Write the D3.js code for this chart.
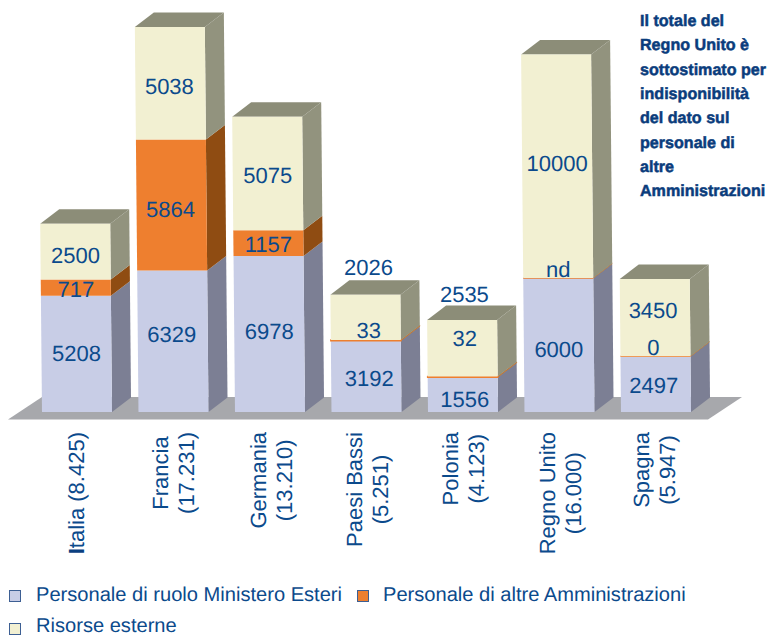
<!DOCTYPE html>
<html>
<head>
<meta charset="utf-8">
<script src="https://cdn.jsdelivr.net/npm/d3@7"></script>
<style>
  html, body { margin: 0; padding: 0; background: #fff; }
  svg { display: block; font-family: "Liberation Sans", Arial, sans-serif; text-rendering: geometricPrecision; }
</style>
</head>
<body>
<svg id="chart"></svg>
<script>
const countries = ['Italia', 'Francia', 'Germania', 'Paesi Bassi', 'Polonia', 'Regno Unito', 'Spagna'];
const totals = ['8.425', '17.231', '13.210', '5.251', '4.123', '16.000', '5.947'];
const ruolo = [5208, 6329, 6978, 3192, 1556, 6000, 2497];
const altre = [717, 5864, 1157, 33, 32, null, 0];   // null = nd
const esterne = [2500, 5038, 5075, 2026, 2535, 10000, 3450];
const seriesNames = ['Personale di ruolo Ministero Esteri', 'Personale di altre Amministrazioni', 'Risorse esterne'];
const noteLines = ['Il totale del', 'Regno Unito è', 'sottostimato per', 'indisponibilità', 'del dato sul', 'personale di', 'altre', 'Amministrazioni'];

const width = 767, height = 636;
const textColor = '#0b4a8c';
const frontColors = ['#c8cde6', '#ee7f2f', '#f2f0d2'];
const sideColors = ['#7c7f94', '#8f4c12', '#92937e'];
const topColor = '#8c8d78';
const depth = {x: 19, y: 14.5};
const skew = 0.0095;   // bars lean slightly left going up

// hand nudges of the value labels, the source chart moved them around: [ruolo, altre, esterne]
const labelNudge = {
  'Italia': [-1, 1, 3],
  'Francia': [-7, 4, 3],
  'Germania': [-3, 1, 2],
  'Paesi Bassi': [2, -10, -50],
  'Polonia': [4, -39, -54],
  'Regno Unito': [4, -9, -3],
  'Spagna': [1, -9, -8]
};
const labelShiftX = {'Italia': 0, 'Francia': -1, 'Germania': 0, 'Paesi Bassi': 3, 'Polonia': 2, 'Regno Unito': 0, 'Spagna': -2};

const svg = d3.select('#chart').attr('width', width).attr('height', height);

const x = d3.scaleBand().domain(countries).range([42, 691]).paddingInner(0.2746).paddingOuter(0);
const y = d3.scaleLinear().domain([0, 17231]).range([412, 27]);
const leftAt = (c, py) => x(c) - (412 - py) * skew;
const pts = arr => arr.map(p => p.join(',')).join(' ');

// floor
svg.append('polygon')
  .attr('points', pts([[8, 419.5], [42, 397], [742, 397], [708, 419.5]]))
  .attr('fill', '#a7a8ac');

const bars = countries.map((c, i) => {
  let start = 0;
  const vals = [ruolo[i], altre[i], esterne[i]];
  return {
    country: c,
    segs: vals.map((v, s) => {
      const seg = {s, v, y0: y(start), y1: y(start + (v || 0)), label: v === null ? 'nd' : String(v), nudge: labelNudge[c][s]};
      start += v || 0;
      return seg;
    })
  };
});

const bar = svg.selectAll('.bar').data(bars).join('g').attr('class', 'bar');

// side faces
bar.selectAll('.side').data(d => d.segs.map(s => ({...s, country: d.country}))).join('polygon')
  .attr('class', 'side')
  .attr('points', d => {
    const b = leftAt(d.country, d.y0) + x.bandwidth(), t = leftAt(d.country, d.y1) + x.bandwidth();
    return pts([[b, d.y0], [b + depth.x, d.y0 - depth.y], [t + depth.x, d.y1 - depth.y], [t, d.y1]]);
  })
  .attr('fill', d => sideColors[d.s])
  .attr('stroke', d => d.s === 1 ? (d.y0 - d.y1 < 2 ? '#c8762e' : sideColors[1]) : 'none')
  .attr('stroke-width', d => d.y0 - d.y1 < 2 ? 0.8 : 0);

// top face
bar.append('polygon')
  .attr('points', d => {
    const ty = d.segs[2].y1, l = leftAt(d.country, ty), r = l + x.bandwidth();
    return pts([[l, ty], [l + depth.x, ty - depth.y], [r + depth.x, ty - depth.y], [r, ty]]);
  })
  .attr('fill', topColor);

// front faces
bar.selectAll('.front').data(d => d.segs.map(s => ({...s, country: d.country}))).join('polygon')
  .attr('class', 'front')
  .attr('points', d => {
    const b = leftAt(d.country, d.y0), t = leftAt(d.country, d.y1);
    return pts([[b, d.y0], [b + x.bandwidth(), d.y0], [t + x.bandwidth(), d.y1], [t, d.y1]]);
  })
  .attr('fill', d => frontColors[d.s])
  .attr('stroke', d => d.s === 1 && d.y0 - d.y1 < 2 ? frontColors[1] : 'none')
  .attr('stroke-width', 1.5);

// value labels
bar.selectAll('.value').data(d => d.segs.map(s => ({...s, country: d.country}))).join('text')
  .attr('class', 'value')
  .attr('x', d => leftAt(d.country, (d.y0 + d.y1) / 2) + x.bandwidth() / 2 + labelShiftX[d.country])
  .attr('y', d => (d.y0 + d.y1) / 2 + d.nudge)
  .attr('dy', '0.36em')
  .attr('text-anchor', 'middle')
  .attr('font-size', 22)
  .attr('fill', textColor)
  .text(d => d.label);

// category labels, rotated, two lines unless the name is Italia
const catBaseline = {'Italia': 84, 'Francia': 168, 'Germania': 266, 'Paesi Bassi': 362, 'Polonia': 458, 'Regno Unito': 555, 'Spagna': 649};
const catTop = 432;
countries.forEach((c, i) => {
  const g = svg.append('g').attr('class', 'cat');
  const lines = [];
  if (c === 'Italia') {
    const t = g.append('text').attr('text-anchor', 'middle').attr('font-size', 22).attr('fill', textColor);
    t.append('tspan').attr('font-weight', 'bold').attr('fill', '#0a3f80').text('I');
    t.append('tspan').text(`talia (${totals[i]})`);
    lines.push(t);
  } else {
    [c, `(${totals[i]})`].forEach((s, k) => {
      lines.push(g.append('text').attr('text-anchor', 'middle').attr('font-size', 22)
        .attr('fill', textColor).attr('y', k * 26).text(s));
    });
  }
  const maxLen = d3.max(lines, t => t.node().getComputedTextLength());
  g.attr('transform', `translate(${catBaseline[c]},${catTop + maxLen / 2}) rotate(-90)`);
});

// note in the top right corner
svg.append('text')
  .attr('font-size', 16.1)
  .attr('font-weight', 'bold')
  .attr('fill', '#0a3c7c')
  .attr('stroke', '#0a3c7c')
  .attr('stroke-width', 0.5)
  .selectAll('tspan').data(noteLines).join('tspan')
  .attr('x', 640)
  .attr('y', (d, i) => 26 + i * 24.3)
  .text(d => d);

// legend
const legendItems = [
  {x: 9, y: 590, tx: 36, base: 600.5},
  {x: 357, y: 590, tx: 383, base: 600.5},
  {x: 9, y: 623, tx: 36, base: 631.5}
];
const legend = svg.selectAll('.legend').data(seriesNames).join('g').attr('class', 'legend');
legend.append('rect')
  .attr('x', (d, i) => legendItems[i].x + 0.5)
  .attr('y', (d, i) => legendItems[i].y + 0.5)
  .attr('width', 11).attr('height', 11)
  .attr('fill', (d, i) => frontColors[i])
  .attr('stroke', '#3d5f93');
legend.append('text')
  .attr('x', (d, i) => legendItems[i].tx)
  .attr('y', (d, i) => legendItems[i].base)
  .attr('font-size', 20.1)
  .attr('fill', textColor)
  .text(d => d);
</script>
</body>
</html>
